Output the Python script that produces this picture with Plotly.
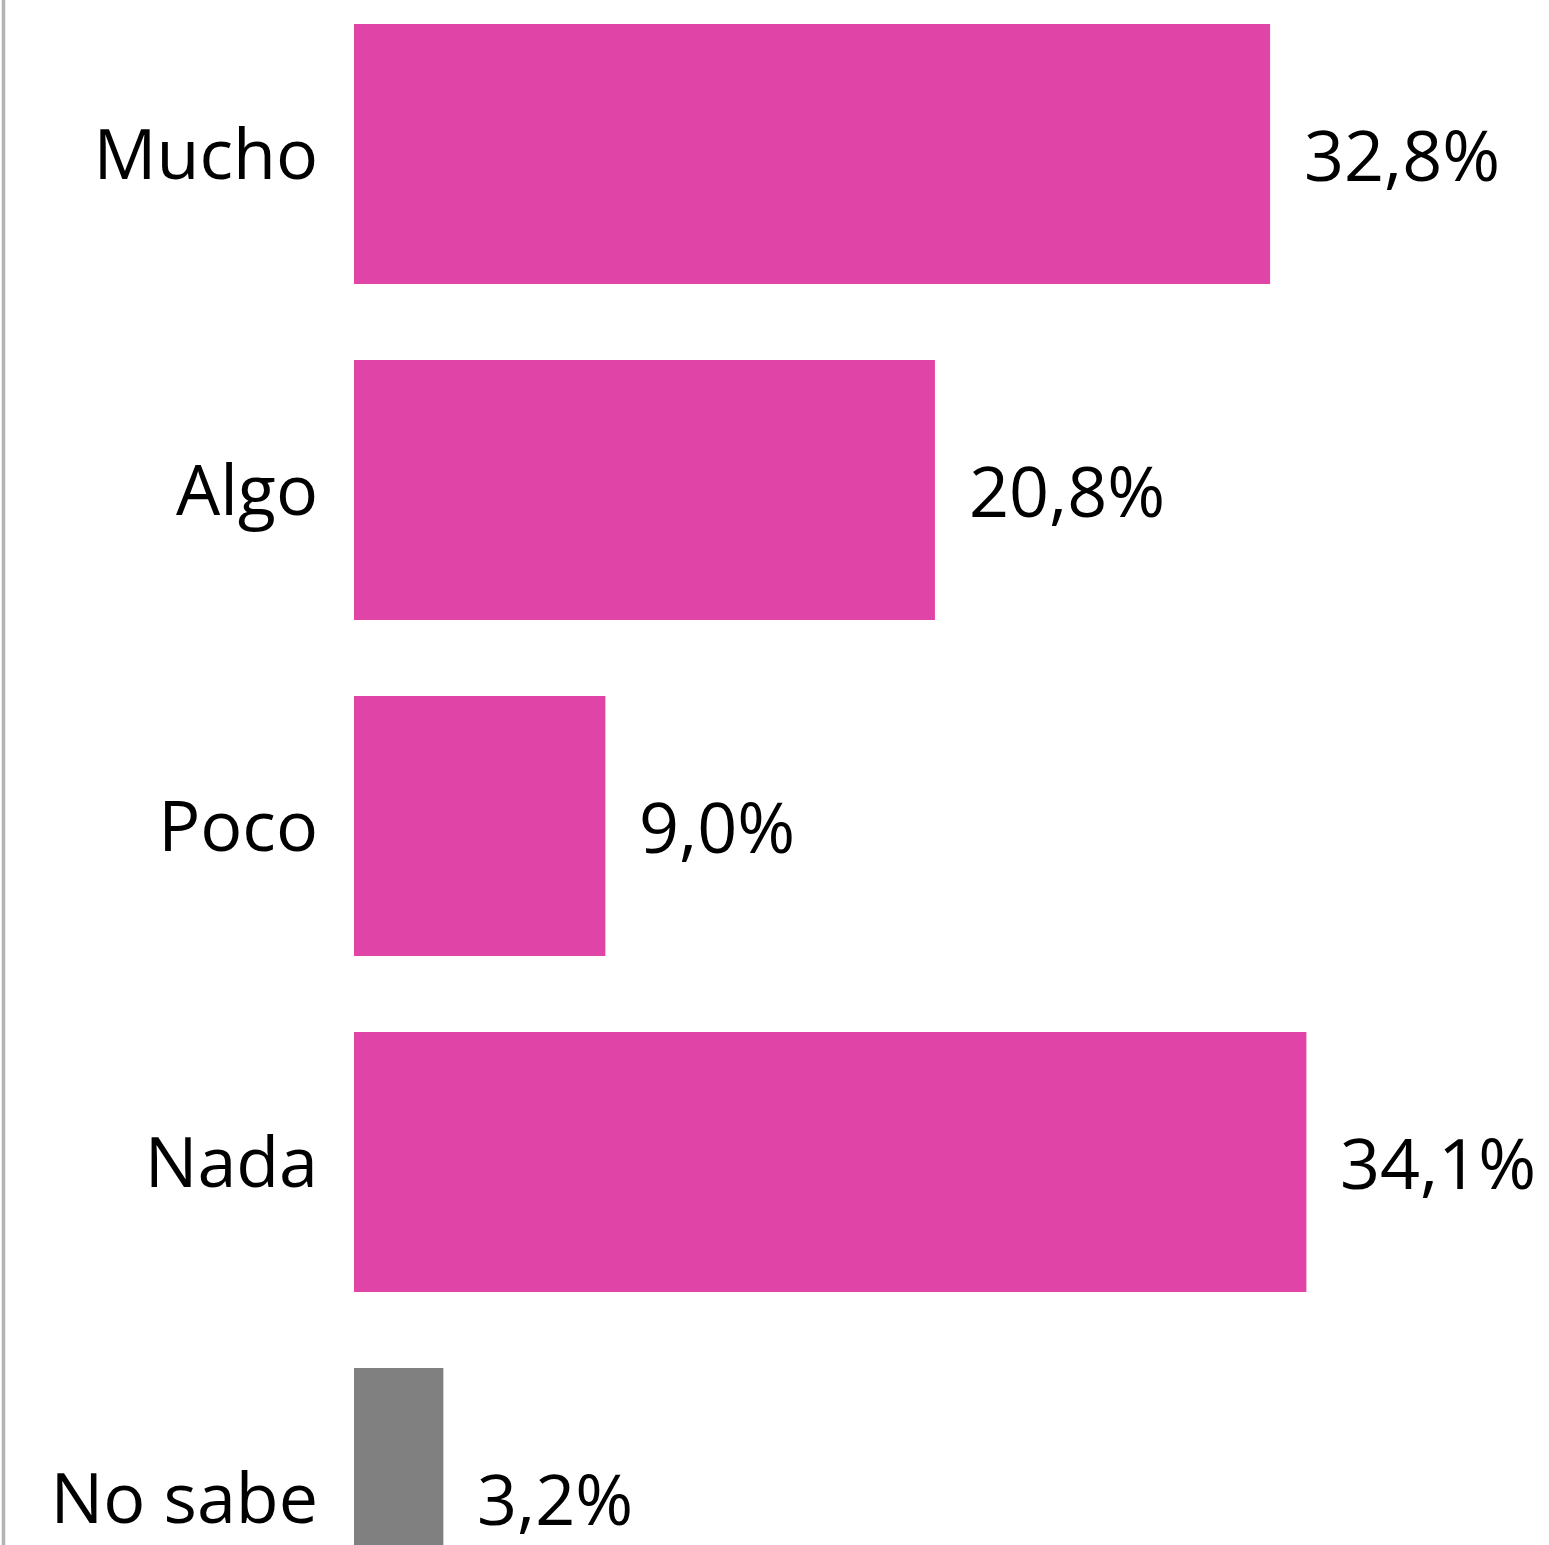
import plotly.graph_objects as go

categories = ["Mucho", "Algo", "Poco", "Nada", "No sabe"]
values = [32.8, 20.8, 9.0, 34.1, 3.2]
labels = ["32,8%", "20,8%", "9,0%", "34,1%", "3,2%"]
colors = ["#E044A7", "#E044A7", "#E044A7", "#E044A7", "#808080"]

FONT = "Open Sans"
W, H = 1549, 1545
left = 354
pitch = 336.0
first_center = 154.0

fig = go.Figure()
fig.add_trace(go.Bar(
    x=values, y=categories, orientation="h",
    marker=dict(color=colors, line=dict(width=0)),
    width=260 / pitch,
    hoverinfo="skip",
))

for c, v, t in zip(categories, values, labels):
    fig.add_annotation(x=v, y=c, text=t, showarrow=False, xanchor="left",
                       yanchor="middle", xshift=33, yshift=0, borderpad=0,
                       font=dict(family=FONT, size=70, color="#000000"))

x_max = (W - left) / 27.93
y_top = -first_center / pitch
y_bot = 4 + (H - (first_center + 4 * pitch)) / pitch

fig.add_shape(type="line", xref="paper", yref="paper",
              x0=(3.5 - left) / (W - left), x1=(3.5 - left) / (W - left),
              y0=0, y1=1, line=dict(color="#B3B3B3", width=3.5))

fig.update_layout(
    width=W, height=H,
    margin=dict(l=left, r=0, t=0, b=0, pad=0),
    paper_bgcolor="white", plot_bgcolor="white",
    showlegend=False,
    xaxis=dict(range=[0, x_max], visible=False, fixedrange=True),
    yaxis=dict(range=[y_bot, y_top], type="category", showgrid=False,
               showline=False, zeroline=False, ticks="",
               ticklabelstandoff=35, fixedrange=True,
               tickfont=dict(family=FONT, size=70, color="#000000")),
)

fig.write_html("out.html", config={"displayModeBar": False, "staticPlot": True},
               post_script="document.body.style.margin='0';document.body.style.overflow='hidden';")
